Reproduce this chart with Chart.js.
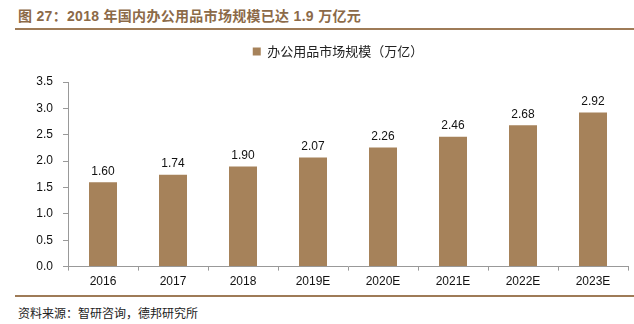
<!DOCTYPE html>
<html>
<head>
<meta charset="utf-8">
<script src="https://cdn.jsdelivr.net/npm/chart.js@4/dist/chart.umd.min.js"></script>
<style>
  html, body { margin: 0; padding: 0; background: #fff; }
  #wrap { position: relative; width: 634px; height: 324px; }
  #title { position: absolute; left: 18px; top: 5px; font: bold 14px "Liberation Sans", "Noto Sans CJK SC", sans-serif; color: #8C6A48; white-space: nowrap; letter-spacing: 0.3px; }
  .rule { position: absolute; left: 15px; width: 619px; height: 2px; background: #9E7B57; }
  #src { position: absolute; left: 18px; top: 304px; font: 12px "Noto Sans CJK SC", sans-serif; color: #222; white-space: nowrap; }
  #box { position: absolute; left: 0; top: 32px; width: 634px; height: 261px; }
</style>
</head>
<body>
<div id="wrap">
  <div id="title">图 27：2018 年国内办公用品市场规模已达 1.9 万亿元</div>
  <div class="rule" style="top:28px"></div>
  <div id="box"><canvas id="chart"></canvas></div>
  <div class="rule" style="top:295px"></div>
  <div id="src">资料来源：智研咨询，德邦研究所</div>
</div>
<script>
// 办公用品市场规模（万亿）
const years = ['2016', '2017', '2018', '2019E', '2020E', '2021E', '2022E', '2023E'];
const marketSize = [1.60, 1.74, 1.90, 2.07, 2.26, 2.46, 2.68, 2.92];
const seriesName = '办公用品市场规模（万亿）';

// value labels above the bars
const barLabels = {
  id: 'barLabels',
  afterDatasetsDraw(chart) {
    const ctx = chart.ctx;
    const meta = chart.getDatasetMeta(0);
    ctx.save();
    ctx.font = '12px "Liberation Sans", Arial, sans-serif';
    ctx.fillStyle = '#111';
    ctx.textAlign = 'center';
    ctx.textBaseline = 'bottom';
    meta.data.forEach((bar, i) => {
      ctx.fillText(marketSize[i].toFixed(2), bar.x, bar.y - 5);
    });
    ctx.restore();
  }
};

// more room under the legend, and nudge it right like the original
const legendTweak = {
  id: 'legendTweak',
  beforeInit(chart) {
    const lg = chart.legend;
    const fit = lg.fit;
    lg.fit = function () {
      fit.call(lg);
      lg.height += 14;
    };
    const draw = lg.draw;
    lg.draw = function () {
      lg.ctx.save();
      lg.ctx.translate(24, 0);
      draw.call(lg);
      lg.ctx.restore();
    };
  }
};

const ctx = document.getElementById('chart').getContext('2d');
new Chart(ctx, {
  type: 'bar',
  data: {
    labels: years,
    datasets: [{
      label: seriesName,
      data: marketSize,
      backgroundColor: '#A6825A',
      borderWidth: 0,
      categoryPercentage: 0.8,
      barPercentage: 0.5
    }]
  },
  options: {
    responsive: true,
    maintainAspectRatio: false,
    animation: false,
    layout: { padding: { left: 0, right: 6, top: 3, bottom: 0 } },
    plugins: {
      legend: {
        position: 'top',
        labels: {
          boxWidth: 8,
          boxHeight: 8,
          padding: 10,
          color: '#222',
          font: { family: '"Noto Sans CJK SC", sans-serif', size: 13 }
        }
      },
      tooltip: { enabled: false }
    },
    scales: {
      x: {
        grid: { display: true, drawOnChartArea: false, offset: true, color: '#999', tickLength: 4 },
        border: { color: '#999' },
        ticks: { color: '#111', font: { family: '"Liberation Sans", Arial, sans-serif', size: 12 }, padding: 4 }
      },
      y: {
        min: 0,
        max: 3.5,
        afterFit(scale) { scale.width = 68; },
        grid: { display: true, drawOnChartArea: false, color: '#999', tickLength: 5 },
        border: { color: '#999' },
        ticks: {
          stepSize: 0.5,
          color: '#111',
          padding: 10,
          font: { family: '"Liberation Sans", Arial, sans-serif', size: 12 },
          callback: v => v.toFixed(1)
        }
      }
    }
  },
  plugins: [barLabels, legendTweak]
});
</script>
</body>
</html>
